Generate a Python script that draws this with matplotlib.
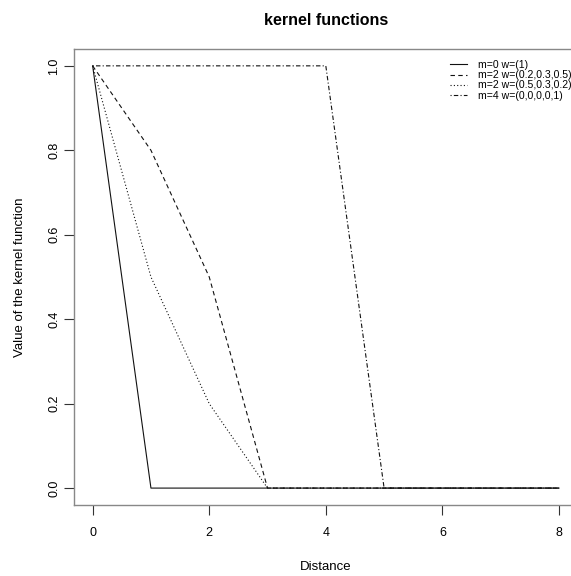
import matplotlib
matplotlib.use("Agg")
import matplotlib.pyplot as plt

plt.rcParams['font.family'] = ['Liberation Sans', 'DejaVu Sans']

distance = [0, 1, 2, 3, 4, 5, 6, 7, 8]
k_m0 = [1, 0, 0, 0, 0, 0, 0, 0, 0]
k_m2a = [1, 0.8, 0.5, 0, 0, 0, 0, 0, 0]
k_m2b = [1, 0.5, 0.2, 0, 0, 0, 0, 0, 0]
k_m4 = [1, 1, 1, 1, 1, 0, 0, 0, 0]
labels = ["m=0 w=(1)", "m=2 w=(0.2,0.3,0.5)", "m=2 w=(0.5,0.3,0.2)", "m=4 w=(0,0,0,0,1)"]

fig = plt.figure(figsize=(5.71, 5.76), dpi=100)
ax = fig.add_axes([0.1296, 0.1233, 0.882, 0.7917])

styles = ['-', (0, (4, 3)), (0, (1, 2)), (0, (1, 2, 4, 2))]
for y, ls, lab in zip([k_m0, k_m2a, k_m2b, k_m4], styles, labels):
    ax.plot(distance, y, color='#111111', lw=0.8, linestyle=ls, label=lab)

ax.set_xlim(-0.32, 8.32)
ax.set_ylim(-0.04, 1.04)
ax.set_xticks([0, 2, 4, 6, 8])
ax.set_yticks([0.0, 0.2, 0.4, 0.6, 0.8, 1.0])
ax.set_yticklabels(['0.0', '0.2', '0.4', '0.6', '0.8', '1.0'], rotation=90, va='center')
ax.tick_params(length=7, width=0.8, color='#333333', labelsize=9)
ax.tick_params(axis='x', pad=9)
ax.tick_params(axis='y', pad=3)
for s in ax.spines.values():
    s.set_color('#888888')
    s.set_linewidth(1.0)

ax.set_xlabel("Distance", fontsize=9.5, labelpad=16)
ax.set_ylabel("Value of the kernel function", fontsize=9.5, labelpad=16)
ax.set_title("kernel functions", fontsize=11.5, fontweight='bold', pad=17)

ax.legend(loc='upper left', bbox_to_anchor=(0.738, 0.985), frameon=False, fontsize=7.6,
          handlelength=1.65, handletextpad=1.05, labelspacing=0.02, borderaxespad=0)

fig.savefig("out.png", dpi=100)
